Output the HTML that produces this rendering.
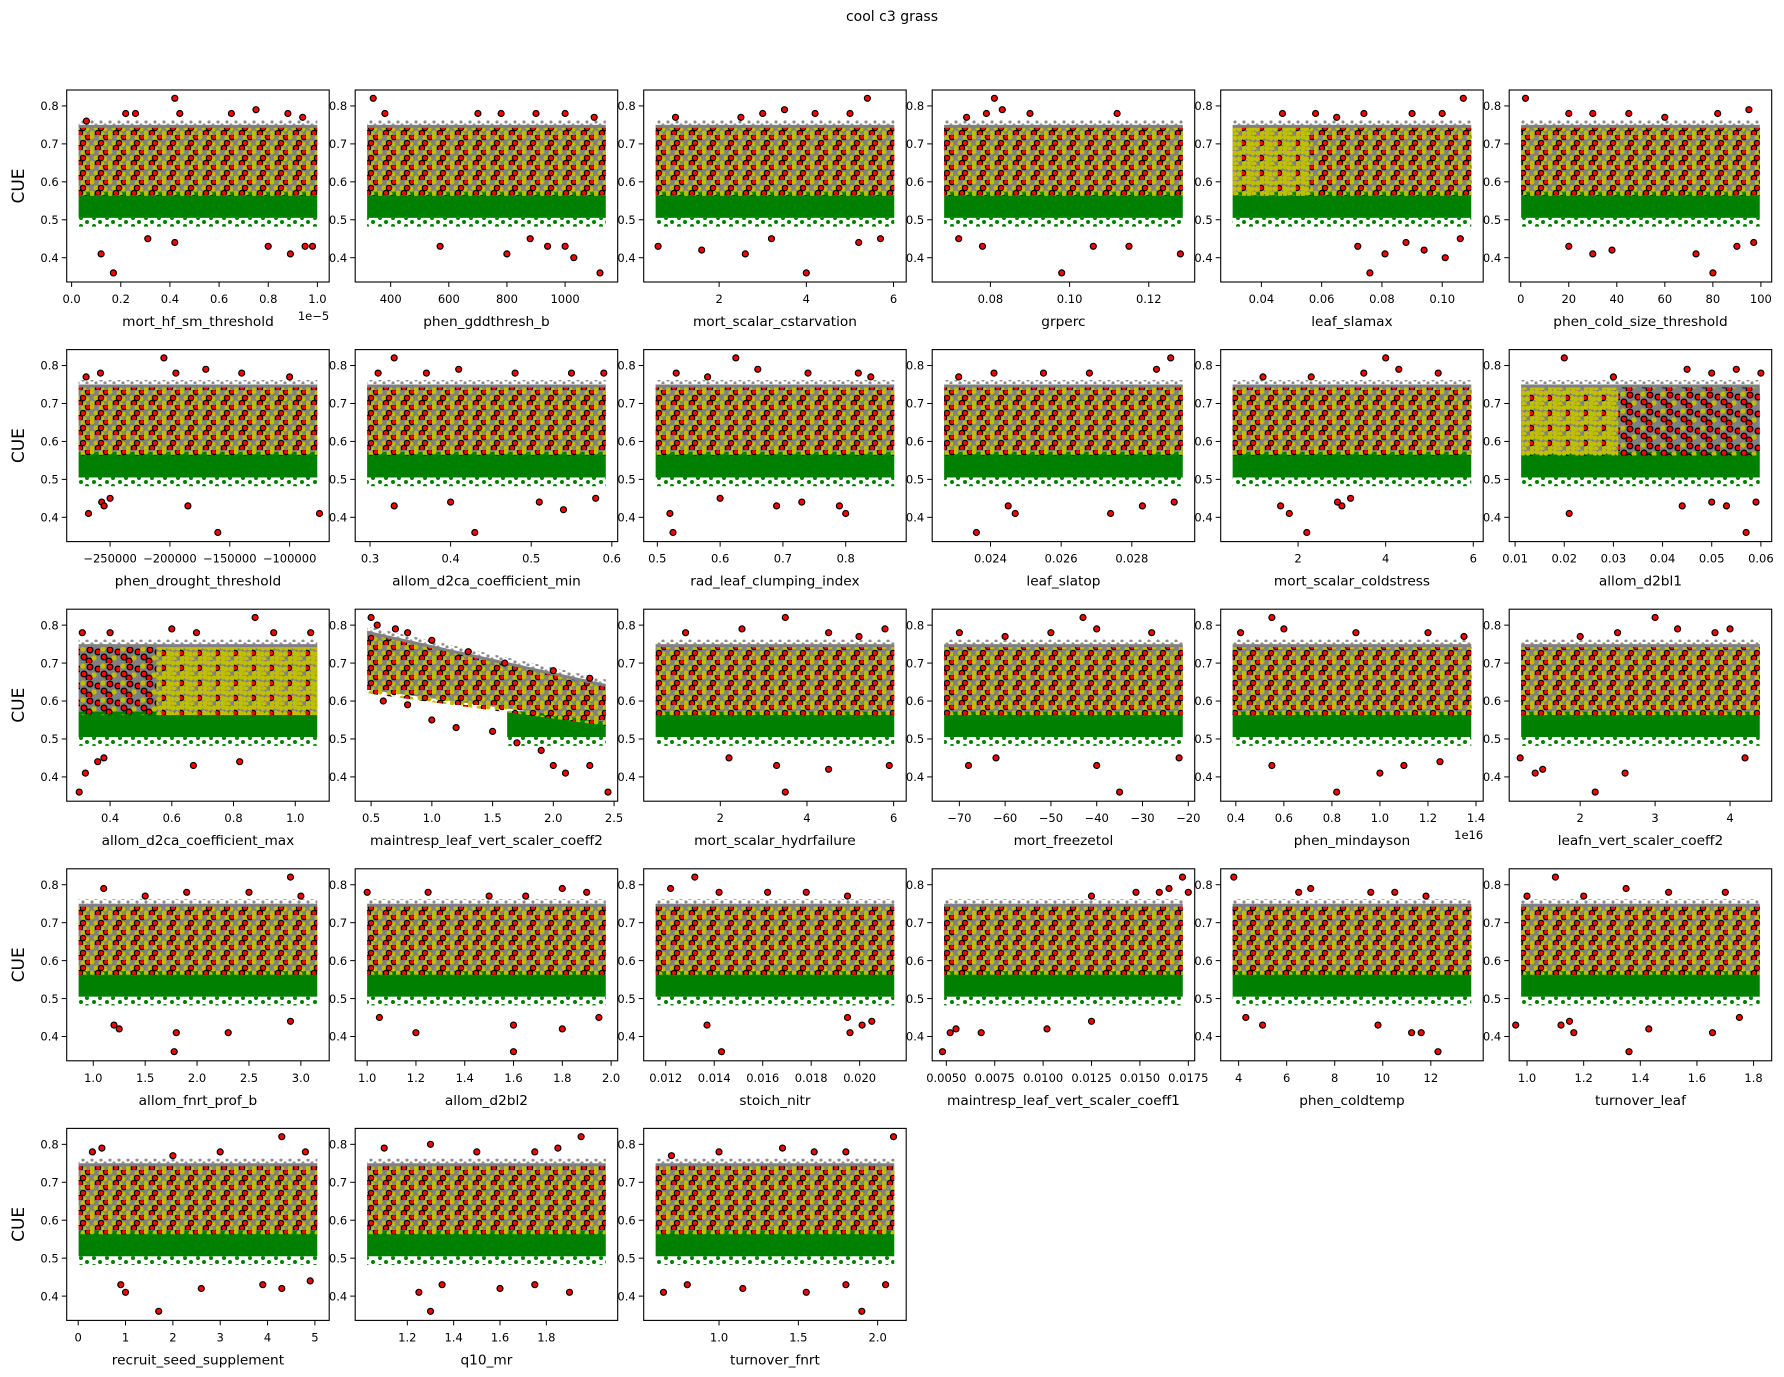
<!DOCTYPE html>
<html><head><meta charset="utf-8">
<style>
html,body{margin:0;padding:0;background:#fff;}
svg{display:block;font-family:"DejaVu Sans","Liberation Sans",sans-serif;}
</style></head>
<body>
<svg id="fig" width="1784" height="1377" viewBox="0 0 1784 1377" xmlns="http://www.w3.org/2000/svg">
<defs>
<pattern id="pMix" patternUnits="userSpaceOnUse" width="18" height="15">
<circle cx="2" cy="2" r="2.5" fill="#bfbf00"/><circle cx="11" cy="3" r="2.5" fill="#bfbf00"/>
<circle cx="6" cy="8" r="2.5" fill="#bfbf00"/><circle cx="15" cy="9" r="2.5" fill="#bfbf00"/>
<circle cx="2" cy="13" r="2.5" fill="#bfbf00"/><circle cx="12" cy="14" r="2.5" fill="#bfbf00"/>
<circle cx="16" cy="2" r="2.7" fill="#f00" stroke="#000" stroke-width="1.1"/>
<circle cx="8" cy="13" r="2.7" fill="#f00" stroke="#000" stroke-width="1.1"/>
<circle cx="11" cy="8" r="2.7" fill="#f00" stroke="#000" stroke-width="1.1"/>
</pattern>
<pattern id="pRed" patternUnits="userSpaceOnUse" width="20" height="17">
<circle cx="3" cy="3" r="2.6" fill="#bfbf00"/><circle cx="14" cy="12" r="2.6" fill="#bfbf00"/>
<circle cx="10" cy="4" r="2.9" fill="#f00" stroke="#000" stroke-width="1.2"/>
<circle cx="18" cy="6" r="2.9" fill="#f00" stroke="#000" stroke-width="1.2"/>
<circle cx="4" cy="11" r="2.9" fill="#f00" stroke="#000" stroke-width="1.2"/>
<circle cx="9" cy="15" r="2.9" fill="#f00" stroke="#000" stroke-width="1.2"/>
</pattern>
<pattern id="pYel" patternUnits="userSpaceOnUse" width="18" height="15">
<circle cx="2" cy="2" r="2.6" fill="#bfbf00"/><circle cx="11" cy="3" r="2.6" fill="#bfbf00"/>
<circle cx="6" cy="8" r="2.6" fill="#bfbf00"/><circle cx="15" cy="9" r="2.6" fill="#bfbf00"/>
<circle cx="2" cy="13" r="2.6" fill="#bfbf00"/><circle cx="12" cy="14" r="2.6" fill="#bfbf00"/>
<circle cx="7" cy="2" r="2.6" fill="#bfbf00"/><circle cx="16" cy="3" r="2.6" fill="#bfbf00"/>
<circle cx="10" cy="9" r="2.6" fill="#bfbf00"/><circle cx="7" cy="13" r="2.6" fill="#bfbf00"/>
<circle cx="1" cy="8" r="2.7" fill="#f00" stroke="#000" stroke-width="1.1"/>
</pattern>
<pattern id="pFringe" patternUnits="userSpaceOnUse" width="13" height="8">
<circle cx="3" cy="2" r="2" fill="#008000"/><circle cx="9" cy="6" r="2" fill="#008000"/>
</pattern>
<pattern id="pTop" patternUnits="userSpaceOnUse" width="9" height="6">
<circle cx="2" cy="2" r="1.6" fill="#8c8c8c"/><circle cx="6" cy="5" r="1.6" fill="#8c8c8c"/>
</pattern>
</defs>
<text x="892" y="21" text-anchor="middle" font-size="14">cool c3 grass</text>
</svg>
<script>
// ---- data ----
const names = ["mort_hf_sm_threshold","phen_gddthresh_b","mort_scalar_cstarvation","grperc","leaf_slamax","phen_cold_size_threshold",
"phen_drought_threshold","allom_d2ca_coefficient_min","rad_leaf_clumping_index","leaf_slatop","mort_scalar_coldstress","allom_d2bl1",
"allom_d2ca_coefficient_max","maintresp_leaf_vert_scaler_coeff2","mort_scalar_hydrfailure","mort_freezetol","phen_mindayson","leafn_vert_scaler_coeff2",
"allom_fnrt_prof_b","allom_d2bl2","stoich_nitr","maintresp_leaf_vert_scaler_coeff1","phen_coldtemp","turnover_leaf",
"recruit_seed_supplement","q10_mr","turnover_fnrt"];
const xlims = [[-0.02,1.048],[278,1181],[0.27,6.29],[0.0653,0.1316],[0.0265,0.1136],[-4.8,104.5],
[-286250,-66930],[0.2816,0.6073],[0.4783,0.8963],[0.02235,0.02978],[0.233,6.227],[0.0088,0.0622],
[0.2594,1.110],[0.369,2.53],[0.232,6.29],[-75.93,-18.6],[0.337,1.43],[1.053,4.556],
[0.744,3.273],[0.951,2.027],[0.01109,0.02192],[0.00427,0.01783],[3.254,14.18],[0.937,1.864],
[-0.243,5.302],[0.975,2.108],[0.525,2.18]];
const xticks = [[0,0.2,0.4,0.6,0.8,1.0],[400,600,800,1000],[2,4,6],[0.08,0.10,0.12],[0.04,0.06,0.08,0.10],[0,20,40,60,80,100],
[-250000,-200000,-150000,-100000],[0.3,0.4,0.5,0.6],[0.5,0.6,0.7,0.8],[0.024,0.026,0.028],[2,4,6],[0.01,0.02,0.03,0.04,0.05,0.06],
[0.4,0.6,0.8,1.0],[0.5,1.0,1.5,2.0,2.5],[2,4,6],[-70,-60,-50,-40,-30,-20],[0.4,0.6,0.8,1.0,1.2,1.4],[2,3,4],
[1.0,1.5,2.0,2.5,3.0],[1.0,1.2,1.4,1.6,1.8,2.0],[0.012,0.014,0.016,0.018,0.020],[0.005,0.0075,0.01,0.0125,0.015,0.0175],[4,6,8,10,12],[1.0,1.2,1.4,1.6,1.8],
[0,1,2,3,4,5],[1.2,1.4,1.6,1.8],[1.0,1.5,2.0]];
const xtickLabels = [["0.0","0.2","0.4","0.6","0.8","1.0"],["400","600","800","1000"],["2","4","6"],["0.08","0.10","0.12"],["0.04","0.06","0.08","0.10"],["0","20","40","60","80","100"],
["\u2212250000","\u2212200000","\u2212150000","\u2212100000"],["0.3","0.4","0.5","0.6"],["0.5","0.6","0.7","0.8"],["0.024","0.026","0.028"],["2","4","6"],["0.01","0.02","0.03","0.04","0.05","0.06"],
["0.4","0.6","0.8","1.0"],["0.5","1.0","1.5","2.0","2.5"],["2","4","6"],["\u221270","\u221260","\u221250","\u221240","\u221230","\u221220"],["0.4","0.6","0.8","1.0","1.2","1.4"],["2","3","4"],
["1.0","1.5","2.0","2.5","3.0"],["1.0","1.2","1.4","1.6","1.8","2.0"],["0.012","0.014","0.016","0.018","0.020"],["0.0050","0.0075","0.0100","0.0125","0.0150","0.0175"],["4","6","8","10","12"],["1.0","1.2","1.4","1.6","1.8"],
["0","1","2","3","4","5"],["1.2","1.4","1.6","1.8"],["1.0","1.5","2.0"]];
const offsetTexts = {0:"1e\u22125",16:"1e16"};
const yticks = [0.4,0.5,0.6,0.7,0.8];
const ytickLabels = ["0.4","0.5","0.6","0.7","0.8"];
const ylim = [0.336,0.842];
// band values (CUE): gray band top/bottom at data start / data end
const grayTopStart = [0.75,0.75,0.75,0.75,0.75,0.75, 0.75,0.75,0.75,0.75,0.75,0.75, 0.75,0.785,0.75,0.75,0.75,0.75, 0.75,0.75,0.75,0.75,0.75,0.75, 0.75,0.75,0.75];
const grayTopEnd   = [0.75,0.75,0.75,0.75,0.75,0.75, 0.75,0.75,0.75,0.75,0.75,0.75, 0.75,0.645,0.75,0.75,0.75,0.75, 0.75,0.75,0.75,0.75,0.75,0.75, 0.75,0.75,0.75];
const grayBotStart = [0.573,0.573,0.573,0.573,0.573,0.573, 0.573,0.573,0.573,0.573,0.573,0.573, 0.573,0.63,0.573,0.573,0.573,0.573, 0.573,0.573,0.573,0.573,0.573,0.573, 0.573,0.573,0.573];
const grayBotEnd   = [0.573,0.573,0.573,0.573,0.573,0.573, 0.573,0.573,0.573,0.573,0.573,0.573, 0.573,0.545,0.573,0.573,0.573,0.573, 0.573,0.573,0.573,0.573,0.573,0.573, 0.573,0.573,0.573];
const greenTop = 0.573, greenBot = 0.505, fringeBot = 0.482;
const greenStartX = {13:1.62};
// texture split: [splitX, leftStyle, rightStyle]
const textureSplit = {4:[0.056,"pYel","pMix"],11:[0.031,"pYel","pRed"],12:[0.55,"pRed","pYel"]};
// outlier points [x, CUE]
const outliers = [
[[0.12,0.41],[0.17,0.36],[0.31,0.45],[0.42,0.44],[0.80,0.43],[0.89,0.41],[0.95,0.43],[0.98,0.43],[0.42,0.82],[0.26,0.78],[0.22,0.78],[0.75,0.79],[0.88,0.78],[0.65,0.78],[0.44,0.78],[0.06,0.76],[0.94,0.77]],
[[570,0.43],[800,0.41],[880,0.45],[940,0.43],[1000,0.43],[1030,0.40],[1120,0.36],[340,0.82],[380,0.78],[700,0.78],[780,0.78],[900,0.78],[1000,0.78],[1100,0.77]],
[[0.6,0.43],[1.6,0.42],[2.6,0.41],[4.0,0.36],[3.2,0.45],[5.2,0.44],[5.7,0.45],[5.4,0.82],[3.5,0.79],[3.0,0.78],[4.2,0.78],[5.0,0.78],[2.5,0.77],[1.0,0.77]],
[[0.098,0.36],[0.078,0.43],[0.106,0.43],[0.115,0.43],[0.128,0.41],[0.072,0.45],[0.081,0.82],[0.083,0.79],[0.079,0.78],[0.09,0.78],[0.112,0.78],[0.074,0.77]],
[[0.076,0.36],[0.072,0.43],[0.081,0.41],[0.094,0.42],[0.101,0.40],[0.088,0.44],[0.106,0.45],[0.107,0.82],[0.047,0.78],[0.058,0.78],[0.074,0.78],[0.09,0.78],[0.1,0.78],[0.065,0.77]],
[[20,0.43],[30,0.41],[38,0.42],[73,0.41],[80,0.36],[90,0.43],[97,0.44],[2,0.82],[20,0.78],[30,0.78],[45,0.78],[60,0.77],[82,0.78],[95,0.79]],
[[-268000,0.41],[-257000,0.44],[-255000,0.43],[-160000,0.36],[-185000,0.43],[-75000,0.41],[-250000,0.45],[-205000,0.82],[-258000,0.78],[-270000,0.77],[-195000,0.78],[-170000,0.79],[-140000,0.78],[-100000,0.77]],
[[0.43,0.36],[0.33,0.43],[0.40,0.44],[0.51,0.44],[0.54,0.42],[0.58,0.45],[0.33,0.82],[0.31,0.78],[0.37,0.78],[0.41,0.79],[0.48,0.78],[0.55,0.78],[0.59,0.78]],
[[0.525,0.36],[0.52,0.41],[0.69,0.43],[0.73,0.44],[0.79,0.43],[0.80,0.41],[0.60,0.45],[0.625,0.82],[0.53,0.78],[0.58,0.77],[0.66,0.79],[0.74,0.78],[0.82,0.78],[0.84,0.77]],
[[0.0236,0.36],[0.0245,0.43],[0.0247,0.41],[0.0274,0.41],[0.0283,0.43],[0.0292,0.44],[0.0291,0.82],[0.0287,0.79],[0.0241,0.78],[0.0255,0.78],[0.0268,0.78],[0.0231,0.77]],
[[1.8,0.41],[2.2,0.36],[3.0,0.43],[2.9,0.44],[3.2,0.45],[1.6,0.43],[4.0,0.82],[4.3,0.79],[5.2,0.78],[3.5,0.78],[2.3,0.77],[1.2,0.77]],
[[0.021,0.41],[0.057,0.36],[0.044,0.43],[0.05,0.44],[0.053,0.43],[0.059,0.44],[0.02,0.82],[0.045,0.79],[0.05,0.78],[0.055,0.79],[0.03,0.77],[0.06,0.78]],
[[0.30,0.36],[0.32,0.41],[0.36,0.44],[0.67,0.43],[0.82,0.44],[0.38,0.45],[0.31,0.78],[0.60,0.79],[0.68,0.78],[0.87,0.82],[1.05,0.78],[0.93,0.78],[0.40,0.78]],
[[0.5,0.82],[0.55,0.80],[0.7,0.79],[0.8,0.78],[1.0,0.76],[1.3,0.73],[1.6,0.70],[2.0,0.68],[2.3,0.66],[1.0,0.55],[1.2,0.53],[1.5,0.52],[1.7,0.49],[2.0,0.43],[2.1,0.41],[2.3,0.43],[2.45,0.36],[1.9,0.47],[0.6,0.6],[0.8,0.59]],
[[3.3,0.43],[3.5,0.36],[4.5,0.42],[5.9,0.43],[2.2,0.45],[3.5,0.82],[2.5,0.79],[1.2,0.78],[4.5,0.78],[5.8,0.79],[5.2,0.77]],
[[-35,0.36],[-68,0.43],[-62,0.45],[-40,0.43],[-22,0.45],[-43,0.82],[-40,0.79],[-50,0.78],[-60,0.77],[-28,0.78],[-70,0.78]],
[[0.82,0.36],[0.55,0.43],[1.0,0.41],[1.1,0.43],[1.25,0.44],[0.55,0.82],[0.42,0.78],[0.6,0.79],[0.9,0.78],[1.2,0.78],[1.35,0.77]],
[[2.2,0.36],[1.2,0.45],[1.5,0.42],[2.6,0.41],[4.2,0.45],[1.4,0.41],[3.0,0.82],[3.3,0.79],[2.5,0.78],[2.0,0.77],[4.0,0.79],[3.8,0.78]],
[[1.78,0.36],[1.2,0.43],[1.8,0.41],[2.3,0.41],[2.9,0.44],[1.25,0.42],[2.9,0.82],[1.1,0.79],[1.9,0.78],[2.5,0.78],[3.0,0.77],[1.5,0.77]],
[[1.6,0.36],[1.2,0.41],[1.6,0.43],[1.8,0.42],[1.05,0.45],[1.95,0.45],[1.8,0.79],[1.0,0.78],[1.25,0.78],[1.5,0.77],[1.9,0.78],[1.65,0.77]],
[[0.0143,0.36],[0.0137,0.43],[0.0196,0.41],[0.0201,0.43],[0.0205,0.44],[0.0195,0.45],[0.0132,0.82],[0.0122,0.79],[0.0142,0.78],[0.0162,0.78],[0.0178,0.78],[0.0195,0.77]],
[[0.0048,0.36],[0.0052,0.41],[0.0055,0.42],[0.0068,0.41],[0.0102,0.42],[0.0125,0.44],[0.0172,0.82],[0.0165,0.79],[0.016,0.78],[0.0148,0.78],[0.0125,0.77],[0.0175,0.78]],
[[12.3,0.36],[9.8,0.43],[11.2,0.41],[11.6,0.41],[4.3,0.45],[5.0,0.43],[3.8,0.82],[6.5,0.78],[7.0,0.79],[10.5,0.78],[11.8,0.77],[9.5,0.78]],
[[0.96,0.43],[1.12,0.43],[1.15,0.44],[1.165,0.41],[1.36,0.36],[1.43,0.42],[1.655,0.41],[1.75,0.45],[1.1,0.82],[1.35,0.79],[1.5,0.78],[1.7,0.78],[1.2,0.77],[1.0,0.77]],
[[1.7,0.36],[0.9,0.43],[1.0,0.41],[2.6,0.42],[3.9,0.43],[4.3,0.42],[4.9,0.44],[0.5,0.79],[0.3,0.78],[4.3,0.82],[3.0,0.78],[4.8,0.78],[2.0,0.77]],
[[1.3,0.36],[1.25,0.41],[1.35,0.43],[1.6,0.42],[1.75,0.43],[1.9,0.41],[1.95,0.82],[1.3,0.80],[1.1,0.79],[1.5,0.78],[1.75,0.78],[1.85,0.79]],
[[1.9,0.36],[0.65,0.41],[0.8,0.43],[1.15,0.42],[1.55,0.41],[1.8,0.43],[2.05,0.43],[2.1,0.82],[1.0,0.78],[0.7,0.77],[1.4,0.79],[1.8,0.78],[1.6,0.78]]
];
// ---- drawing ----
const NS = "http://www.w3.org/2000/svg";
const fig = document.getElementById("fig");
function mk(tag, attrs, parent){ const e=document.createElementNS(NS,tag); for(const k in attrs) e.setAttribute(k,attrs[k]); (parent||fig).appendChild(e); return e; }
const AX_L0=66.7, AX_DX=288.5, AX_T0=90, AX_DY=259.6, AX_W=262.5, AX_H=192;
names.forEach((nm,i)=>{
  const col=i%6, row=Math.floor(i/6);
  const L=AX_L0+col*AX_DX, T=AX_T0+row*AX_DY;
  const [x0,x1]=xlims[i];
  const sx=v=>L+(v-x0)/(x1-x0)*AX_W;
  const sy=v=>T+(ylim[1]-v)/(ylim[1]-ylim[0])*AX_H;
  const g=mk("g",{});
  
  
  const dspan=(x1-x0)/1.1, d0=x0+(x1-x0-dspan)/2, d1=d0+dspan;
  const gxs = greenStartX[i]!==undefined ? greenStartX[i] : d0;
  const fr=mk("rect",{x:sx(gxs),y:sy(greenBot),width:sx(d1)-sx(gxs),height:sy(fringeBot)-sy(greenBot),fill:"url(#pFringe)"},g);
  
  
  const gr=mk("rect",{x:sx(gxs),y:sy(greenTop),width:sx(d1)-sx(gxs),height:sy(greenBot)-sy(greenTop),fill:"#008000"},g);
  
  
  // light gray fringe above band
  const tpPts=[[d0,grayTopStart[i]+0.012],[d1,grayTopEnd[i]+0.012],[d1,grayTopEnd[i]],[d0,grayTopStart[i]]].map(p=>sx(p[0]).toFixed(1)+","+sy(p[1]).toFixed(1)).join(" ");
  const tf=mk("polygon",{points:tpPts,fill:"url(#pTop)"},g);
  
  
  const pts=[[d0,grayTopStart[i]],[d1,grayTopEnd[i]],[d1,grayBotEnd[i]],[d0,grayBotStart[i]]].map(p=>sx(p[0]).toFixed(1)+","+sy(p[1]).toFixed(1)).join(" ");
  const gb=mk("polygon",{points:pts,fill:"#808080"},g);
  
  
  const sp=textureSplit[i];
  const segs = sp ? [[d0,sp[0],sp[1]],[sp[0],d1,sp[2]]] : [[d0,d1,"pMix"]];
  segs.forEach(s=>{
    const tA=grayTopStart[i]+(grayTopEnd[i]-grayTopStart[i])*(s[0]-d0)/(d1-d0);
    const tB=grayTopStart[i]+(grayTopEnd[i]-grayTopStart[i])*(s[1]-d0)/(d1-d0);
    const bA=grayBotStart[i]+(grayBotEnd[i]-grayBotStart[i])*(s[0]-d0)/(d1-d0);
    const bB=grayBotStart[i]+(grayBotEnd[i]-grayBotStart[i])*(s[1]-d0)/(d1-d0);
    const tp=[[s[0],tA-0.008],[s[1],tB-0.008],[s[1],bB-0.01],[s[0],bA-0.01]].map(p=>sx(p[0]).toFixed(1)+","+sy(p[1]).toFixed(1)).join(" ");
    const t=mk("polygon",{points:tp,fill:"url(#"+s[2]+")"},g);
    
    
  });
  outliers[i].forEach(p=>{
    const c=mk("circle",{cx:sx(p[0]).toFixed(1),cy:sy(p[1]).toFixed(1),r:3,fill:"#f00",stroke:"#000","stroke-width":1.2},g);
    
    
  });
  const fr2=mk("rect",{x:L,y:T,width:AX_W,height:AX_H,fill:"none",stroke:"#000","stroke-width":1.1},g);
  
  
  xticks[i].forEach((v,k)=>{
    const x=sx(v);
    mk("line",{x1:x,y1:T+AX_H,x2:x,y2:T+AX_H+5,stroke:"#000","stroke-width":1},g);
    const tl=mk("text",{x:x,y:T+AX_H+21,"text-anchor":"middle","font-size":"11.5"},g);
    tl.textContent=xtickLabels[i][k];
    
    
  });
  yticks.forEach((v,k)=>{
    const y=sy(v);
    mk("line",{x1:L-5,y1:y,x2:L,y2:y,stroke:"#000","stroke-width":1},g);
    const tl=mk("text",{x:L-8,y:y+4.2,"text-anchor":"end","font-size":"11.5"},g);
    tl.textContent=ytickLabels[k];
    
    
  });
  const xl=mk("text",{x:L+AX_W/2,y:T+AX_H+44,"text-anchor":"middle","font-size":"13.7"},g);
  xl.textContent=nm;
  
  
  if(offsetTexts[i]){
    const ot=mk("text",{x:L+AX_W,y:T+AX_H+38,"text-anchor":"end","font-size":"11.5"},g);
    ot.textContent=offsetTexts[i];
    
    
  }
  if(col===0){
    const yl=mk("text",{x:0,y:0,"text-anchor":"middle","font-size":"17",transform:"translate(24,"+(T+AX_H/2)+") rotate(-90)"},g);
    yl.textContent="CUE";
    
    
  }
});
</script>
</body></html>
